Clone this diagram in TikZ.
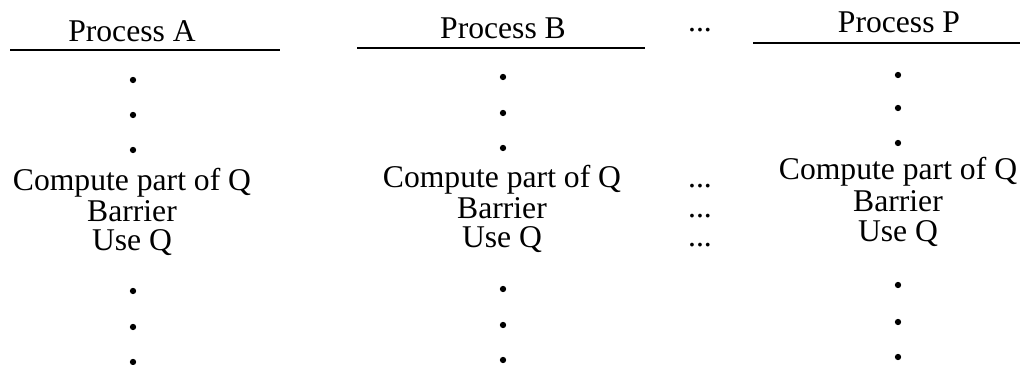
\documentclass[tikz,border=0pt]{standalone}
\usepackage{fontspec}
\setmainfont{Liberation Serif}
\begin{document}
\begin{tikzpicture}[x=0.025cm,y=-0.025cm,
  txt/.style={inner sep=0pt,anchor=base,font=\fontsize{22.5pt}{26pt}\selectfont},
  vdot/.style={circle,fill=black,inner sep=0pt,minimum size=4.5pt},
  rule/.style={line width=1.6pt}]
\useasboundingbox (0,0) rectangle (1024,365);
% Column A
\node[txt] (hA) at (132,42) {Process A};
\coordinate (lA1) at (10,50); \coordinate (lA2) at (280,50);
\draw[rule] (lA1) -- (lA2);
\node[vdot] (dA1) at (133,80) {};
\node[vdot] (dA2) at (133,115) {};
\node[vdot] (dA3) at (133,150) {};
\node[txt] (cA) at (132,191) {Compute part of Q};
\node[txt] (bA) at (132,222) {Barrier};
\node[txt] (uA) at (132,251) {Use Q};
\node[vdot] (dA4) at (133,291) {};
\node[vdot] (dA5) at (133,327) {};
\node[vdot] (dA6) at (133,362) {};
% Column B
\node[txt] (hB) at (503,39) {Process B};
\coordinate (lB1) at (357,48); \coordinate (lB2) at (645,48);
\draw[rule] (lB1) -- (lB2);
\node[vdot] (dB1) at (503,77) {};
\node[vdot] (dB2) at (503,113) {};
\node[vdot] (dB3) at (503,148) {};
\node[txt] (cB) at (502,188) {Compute part of Q};
\node[txt] (bB) at (502,219) {Barrier};
\node[txt] (uB) at (502,248) {Use Q};
\node[vdot] (dB4) at (503,289) {};
\node[vdot] (dB5) at (503,325) {};
\node[vdot] (dB6) at (503,360) {};
% Column P
\node[txt] (hP) at (899,33) {Process P};
\coordinate (lP1) at (753,43); \coordinate (lP2) at (1020,43);
\draw[rule] (lP1) -- (lP2);
\node[vdot] (dP1) at (898,75) {};
\node[vdot] (dP2) at (898,108) {};
\node[vdot] (dP3) at (898,143) {};
\node[txt] (cP) at (898,180) {Compute part of Q};
\node[txt] (bP) at (898,212) {Barrier};
\node[txt] (uP) at (898,242) {Use Q};
\node[vdot] (dP4) at (898,285) {};
\node[vdot] (dP5) at (898,322) {};
\node[vdot] (dP6) at (898,357) {};
% ellipses column
\node[txt] (e0) at (700,32) {...};
\node[txt] (e1) at (700,188) {...};
\node[txt] (e2) at (700,218) {...};
\node[txt] (e3) at (700,247) {...};
\end{tikzpicture}
\end{document}
